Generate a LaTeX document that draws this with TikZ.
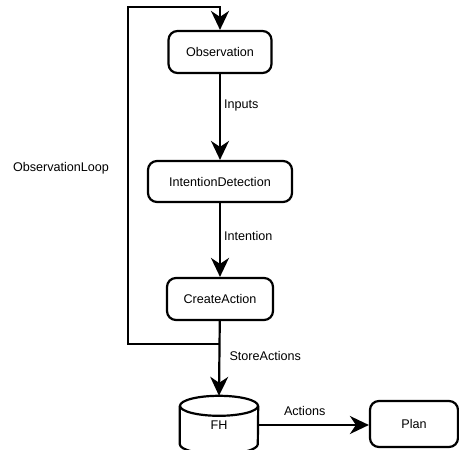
\documentclass[tikz,border=0pt]{standalone}
\usepackage{fontspec}
\setmainfont{Liberation Sans}
\usepackage{tikz}
\usetikzlibrary{positioning,arrows.meta}
\tikzset{
  procbox/.style={draw, line width=2.2pt, rounded corners=9pt, minimum height=42pt, inner sep=2pt},
  flow/.style={line width=2.2pt, -{Stealth[length=19pt,width=18pt,inset=6pt]}},
  plainline/.style={line width=2.2pt},
  lbl/.style={inner sep=3pt}
}

\begin{document}
\begin{tikzpicture}[x=1pt,y=-1pt,font=\fontsize{12.6pt}{15pt}\selectfont]
					\useasboundingbox (0,0) rectangle (459,450);
					\node[procbox, minimum width=103pt] (obs) at (220,52) {Observation};
					\node[procbox, minimum width=144pt, minimum height=41pt] (intent) at (220,181.5) {IntentionDetection};
					\node[procbox, minimum width=106pt] (create) at (220,299) {CreateAction};
					\node[procbox, minimum width=88pt, minimum height=46pt] (plan) at (414,424) {Plan};
					\node[minimum width=78pt, minimum height=38pt, inner sep=0pt] (fh) at (219,425) {FH};
					\draw[plainline] (fh.north) ellipse [x radius=39pt, y radius=10pt];
					\draw[plainline] (fh.north west) -- (fh.south west) arc [start angle=180, end angle=360, x radius=39pt, y radius=10pt] -- (fh.north east);
					\coordinate (fhtop) at ([yshift=10pt]fh.north);
					\coordinate (loopjoin) at (220,344);
					\coordinate (loopcorner) at (128,7);
					\draw[flow] (obs) -- node[lbl, right, pos=.36] {Inputs} (intent);
					\draw[flow] (intent) -- node[lbl, right, pos=.45] {Intention} (create);
					\draw[flow] (create) -- node[lbl, right=6pt, pos=.47] {StoreActions} (fhtop);
					\draw[flow] (loopjoin) -| (loopcorner) -| (obs.north);
					\draw[flow] (fh.east) -- node[lbl, above=5pt, pos=.42] {Actions} (fh.east -| plan.west);
					\node (looplbl) at (61,168) {ObservationLoop};
				\end{tikzpicture}
\end{document}
